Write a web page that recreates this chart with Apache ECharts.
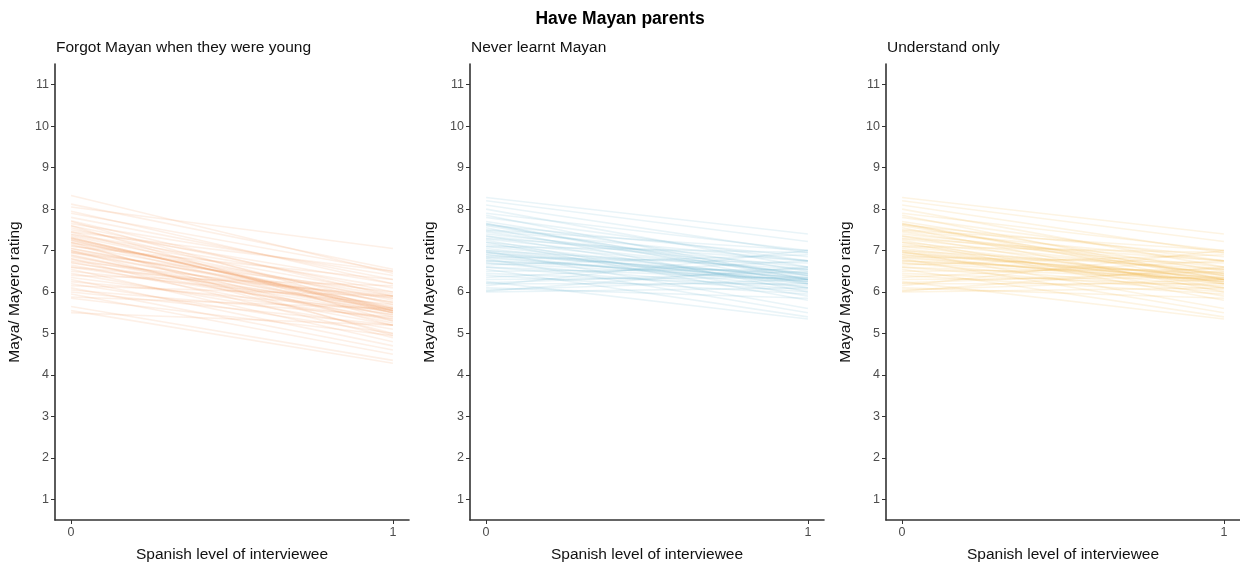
<!DOCTYPE html>
<html>
<head>
<meta charset="utf-8">
<script src="https://cdn.jsdelivr.net/npm/echarts@6/dist/echarts.min.js"></script>
<style>
  html, body { margin: 0; padding: 0; background: #fff; }
  #chart { width: 1240px; height: 567px; }
</style>
</head>
<body>
<div id="chart"></div>
<script>
// Panel headings and axis text
const mainTitle = 'Have Mayan parents';
const panelTitles = ['Forgot Mayan when they were young', 'Never learnt Mayan', 'Understand only'];
const xName = 'Spanish level of interviewee';
const yName = 'Maya/ Mayero rating';
const xTicks = [0, 1];
const yTicks = [1, 2, 3, 4, 5, 6, 7, 8, 9, 10, 11];

// Predicted rating at Spanish level 0 and 1, one pair per draw
const forgotStart = [8.33, 8.12, 8.05, 7.95, 7.90, 7.80, 7.72, 7.65, 7.60, 7.55, 7.50, 7.45, 7.40, 7.35, 7.30, 7.30,
  7.28, 7.25, 7.20, 7.15, 7.10, 7.05, 7.00, 7.00, 6.95, 6.90, 6.85, 6.80, 6.75, 6.70, 6.65, 6.60, 6.55, 6.50, 6.45,
  6.40, 6.35, 6.30, 6.25, 6.20, 6.15, 6.10, 6.05, 6.00, 5.95, 5.88, 5.85, 5.65, 5.55, 5.50, 7.60, 7.20, 6.95, 7.12,
  6.80, 7.45, 7.70, 6.60, 7.32, 7.25, 7.05, 6.88, 7.18, 6.72, 7.38, 6.98];
const forgotEnd = [6.45, 6.55, 7.05, 6.20, 6.50, 6.30, 5.90, 6.40, 6.00, 5.70, 6.20, 5.50, 6.10, 5.80, 5.55, 5.55,
  5.60, 5.40, 5.90, 5.20, 6.30, 5.60, 5.00, 5.75, 6.00, 5.30, 5.50, 4.90, 5.85, 5.60, 5.20, 5.45, 4.80, 5.70, 5.10,
  6.15, 5.35, 4.70, 5.55, 5.00, 5.90, 4.60, 5.40, 5.20, 4.50, 5.60, 4.95, 4.35, 4.28, 5.20, 5.30, 4.95, 5.55, 5.75,
  5.45, 6.50, 5.55, 5.90, 5.50, 5.62, 5.65, 5.25, 5.85, 5.35, 5.95, 5.50];

const neverStart = [8.28, 8.20, 8.10, 8.00, 7.90, 7.85, 7.80, 7.70, 7.65, 7.65, 7.62, 7.55, 7.50, 7.45, 7.40, 7.35,
  7.30, 7.25, 7.20, 7.15, 7.10, 7.05, 7.00, 6.98, 6.95, 6.90, 6.85, 6.82, 6.80, 6.75, 6.70, 6.65, 6.60, 6.55, 6.50,
  6.45, 6.40, 6.35, 6.30, 6.25, 6.22, 6.20, 6.15, 6.10, 6.05, 6.02, 6.00, 7.60, 7.00, 6.90, 7.20, 6.70, 7.35, 6.60,
  7.10, 6.85, 7.28, 6.95, 7.48, 6.75];
const neverEnd = [7.40, 7.22, 6.95, 6.60, 7.00, 6.30, 6.75, 6.50, 6.20, 6.30, 6.85, 6.00, 7.00, 6.40, 6.60, 6.10,
  6.75, 5.90, 6.45, 6.30, 6.95, 6.20, 6.55, 5.60, 6.35, 6.10, 6.70, 6.25, 5.50, 6.45, 6.05, 6.90, 6.30, 5.40, 6.55,
  6.15, 5.95, 6.75, 6.35, 5.35, 6.50, 6.20, 7.00, 5.85, 6.30, 6.60, 6.10, 6.40, 6.25, 6.40, 5.80, 6.30, 6.55, 6.00,
  6.30, 6.20, 6.45, 6.25, 6.75, 6.35];

const understandStart = neverStart.slice();
const understandEnd = neverEnd.slice();

const panelColors = ['#F39A5C', '#6DB8D2', '#EFB545'];

const panels = [
  { start: forgotStart, end: forgotEnd },
  { start: neverStart, end: neverEnd },
  { start: understandStart, end: understandEnd }
];

const gridLefts = [55, 470, 886];
const gridWidth = 354;

// Fixed plot rectangles; outer-bounds shrinking is switched off so the panels keep these sizes
const grids = gridLefts.map(l => ({
  left: l, width: gridWidth, top: 64, height: 456, outerBoundsMode: 'none', containLabel: false
}));

const axisLineStyle = { color: '#333333', width: 1.6 };
const fontFamily = 'Liberation Sans, Arial, sans-serif';
const labelStyle = { color: '#4D4D4D', fontSize: 12.5, fontFamily: fontFamily };
const nameStyle = { color: '#111111', fontSize: 15.5, fontFamily: fontFamily };

const xAxes = gridLefts.map((_, i) => ({
  type: 'value', gridIndex: i, min: -0.05, max: 1.05,
  splitLine: { show: false },
  axisLine: { show: true, onZero: false, lineStyle: axisLineStyle },
  axisTick: { show: true, length: 4, lineStyle: { color: '#333333', width: 1 }, customValues: xTicks },
  axisLabel: Object.assign({ customValues: xTicks, margin: 6 }, labelStyle),
  name: xName, nameLocation: 'middle', nameGap: 27, nameTextStyle: nameStyle
}));

const yAxes = gridLefts.map((_, i) => ({
  type: 'value', gridIndex: i, min: 0.5, max: 11.5,
  splitLine: { show: false },
  axisLine: { show: true, onZero: false, lineStyle: axisLineStyle },
  axisTick: { show: true, length: 4, lineStyle: { color: '#333333', width: 1 }, customValues: yTicks },
  axisLabel: Object.assign({ customValues: yTicks, margin: 6 }, labelStyle),
  name: yName, nameLocation: 'middle', nameGap: 32, nameTextStyle: nameStyle
}));

const series = [];
panels.forEach((p, i) => {
  p.start.forEach((s, k) => {
    series.push({
      type: 'line', xAxisIndex: i, yAxisIndex: i,
      data: [[xTicks[0], s], [xTicks[1], p.end[k]]],
      symbol: 'none', silent: true, animation: false,
      lineStyle: { color: panelColors[i], width: 1.6, opacity: 0.15 }
    });
  });
});

const titles = [{
  text: mainTitle, left: 'center', top: 5,
  textStyle: { fontSize: 17.5, fontWeight: 'bold', color: '#000', fontFamily: fontFamily }
}].concat(panelTitles.map((t, i) => ({
  text: t, left: gridLefts[i] - 4, top: 35,
  textStyle: { fontSize: 15.5, fontWeight: 'normal', color: '#111', fontFamily: fontFamily }
})));

const chart = echarts.init(document.getElementById('chart'), null, { renderer: 'canvas' });
chart.setOption({
  backgroundColor: '#ffffff',
  animation: false,
  title: titles,
  grid: grids,
  xAxis: xAxes,
  yAxis: yAxes,
  series: series
});
</script>
</body>
</html>
